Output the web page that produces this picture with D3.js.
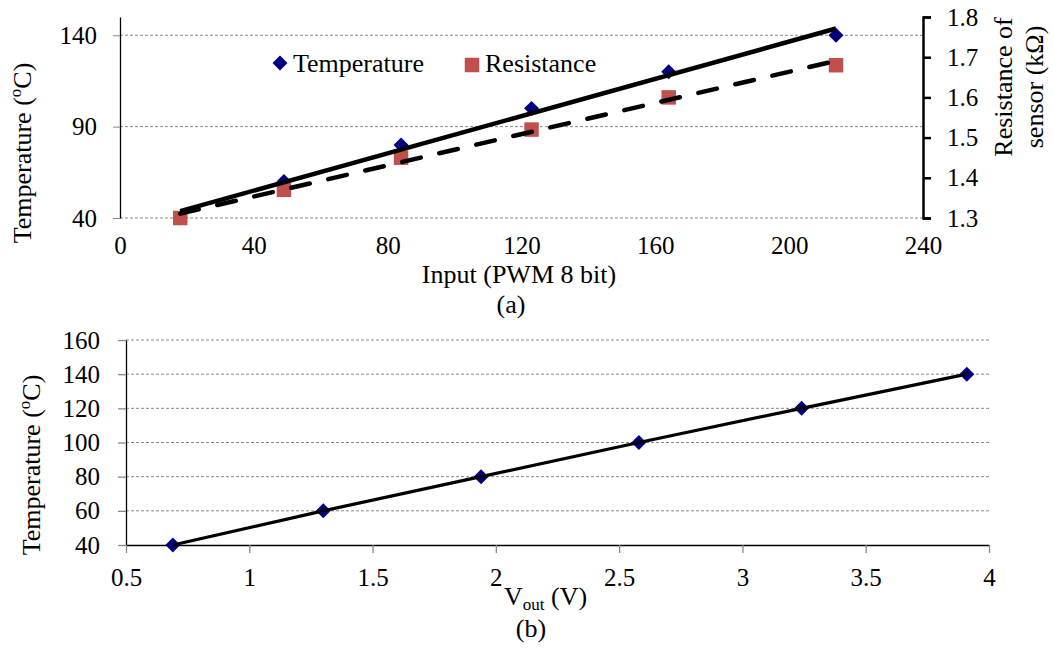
<!DOCTYPE html>
<html>
<head>
<meta charset="utf-8">
<script src="https://cdn.jsdelivr.net/npm/d3@7"></script>
<style>
  body { margin: 0; background: #fff; }
  .grid { stroke: #888; stroke-width: 1; stroke-dasharray: 3,2; }
</style>
</head>
<body>
<script>
// data
const pwmInput = [18, 49, 84, 123, 164, 214];
const temperature = [40, 60, 80, 100, 120, 140];
const resistance = [1.30, 1.37, 1.45, 1.52, 1.60, 1.68];
const vout = [0.69, 1.30, 1.94, 2.58, 3.24, 3.91];

const pwmTicks = [0, 40, 80, 120, 160, 200, 240];
const tempTicksA = [40, 90, 140];
const resTicks = [1.3, 1.4, 1.5, 1.6, 1.7, 1.8];
const voutTicks = [0.5, 1, 1.5, 2, 2.5, 3, 3.5, 4];
const voutTickLabels = ["0.5", "1", "1.5", "2", "2.5", "3", "3.5", "4"];
const tempTicksB = [40, 60, 80, 100, 120, 140, 160];

var w = 1053;
var h = 648;
var fs = 26; // label font size
var serif = "Liberation Serif";

// least squares trendline (Excel style linear trend)
const linFit = (xs, ys) => {
    const mx = d3.mean(xs), my = d3.mean(ys);
    const sxy = d3.sum(xs, (x, i) => (x - mx) * (ys[i] - my));
    const sxx = d3.sum(xs, x => (x - mx) * (x - mx));
    const b = sxy / sxx;
    return x => my + b * (x - mx);
};

// axis text in serif
const styleAxis = g => {
    g.attr("font-family", serif).attr("font-size", 25);
    g.selectAll(".tick text").attr("font-family", serif).attr("fill", "#000");
};

const svg = d3.select("body").append("svg")
    .attr("width", w)
    .attr("height", h)
    .attr("font-family", serif);

const diamond = d3.symbol().type(d3.symbolSquare).size(112);
const square = d3.symbol().type(d3.symbolSquare).size(210);

// ---------- (a) ----------
const xA = d3.scaleLinear().domain([0, 240]).range([120, 923]);
const yA = d3.scaleLinear().domain([40, 150]).range([218, 17]);
const yR = d3.scaleLinear().domain([1.3, 1.8]).range([218, 17]);

// gridlines
svg.append("g").selectAll("line")
    .data(tempTicksA)
    .join("line")
    .attr("class", "grid")
    .attr("x1", xA(0)).attr("x2", xA(240))
    .attr("y1", d => yA(d)).attr("y2", d => yA(d));

// left axis
const gLA = svg.append("g")
    .attr("transform", `translate(${xA(0)},0)`)
    .call(d3.axisLeft(yA).tickValues(tempTicksA).tickSize(7).tickSizeOuter(0).tickPadding(16))
    .call(styleAxis);
gLA.select(".domain").attr("stroke", "#000").attr("stroke-width", 1.3);
gLA.selectAll(".tick line").attr("stroke", "#888");

// right axis
const gRA = svg.append("g")
    .attr("transform", `translate(${xA(240)},0)`)
    .call(d3.axisRight(yR).tickValues(resTicks).tickSize(8).tickSizeOuter(8).tickPadding(16).tickFormat(d3.format(".1f")))
    .call(styleAxis);
gRA.select(".domain").attr("stroke", "#000").attr("stroke-width", 2.5);
gRA.selectAll(".tick line").attr("stroke", "#000").attr("stroke-width", 2.5);

// bottom labels only
const gXA = svg.append("g")
    .attr("transform", `translate(0,${yA(40)})`)
    .call(d3.axisBottom(xA).tickValues(pwmTicks).tickSize(0).tickPadding(18))
    .call(styleAxis);
gXA.select(".domain").remove();

// markers
svg.append("g").selectAll("path")
    .data(pwmInput)
    .join("path")
    .attr("d", diamond)
    .attr("transform", (d, i) => `translate(${xA(d)},${yA(temperature[i])}) rotate(45)`)
    .attr("fill", "#000080");

svg.append("g").selectAll("path")
    .data(pwmInput)
    .join("path")
    .attr("d", square)
    .attr("transform", (d, i) => `translate(${xA(d)},${yR(resistance[i])})`)
    .attr("fill", "#C0504D");

// trendlines
const fitT = linFit(pwmInput, temperature);
const fitR = linFit(pwmInput, resistance);
const ends = d3.extent(pwmInput);

svg.append("path")
    .datum(ends)
    .attr("fill", "none")
    .attr("stroke", "#000")
    .attr("stroke-width", 4.5)
    .attr("d", d3.line().x(d => xA(d)).y(d => yA(fitT(d))));

svg.append("path")
    .datum(ends)
    .attr("fill", "none")
    .attr("stroke", "#000")
    .attr("stroke-width", 4.5)
    .attr("stroke-linecap", "round")
    .attr("stroke-dasharray", "19,19")
    .attr("d", d3.line().x(d => xA(d)).y(d => yR(fitR(d))));

// legend
svg.append("path")
    .attr("d", diamond)
    .attr("transform", "translate(280,63) rotate(45)")
    .attr("fill", "#000080");
svg.append("text")
    .attr("x", 293).attr("y", 72)
    .attr("font-size", fs)
    .text("Temperature");
svg.append("path")
    .attr("d", square)
    .attr("transform", "translate(472,65)")
    .attr("fill", "#C0504D");
svg.append("text")
    .attr("x", 485).attr("y", 72)
    .attr("font-size", fs)
    .text("Resistance");

// titles
const tA = svg.append("text")
    .attr("transform", "translate(31,153) rotate(-90)")
    .attr("text-anchor", "middle")
    .attr("font-size", fs);
tA.append("tspan").text("Temperature (");
tA.append("tspan").attr("font-size", 17).attr("dy", -10).text("o");
tA.append("tspan").attr("dy", 10).text("C)");

svg.append("text")
    .attr("transform", "translate(1012,87) rotate(-90)")
    .attr("text-anchor", "middle")
    .attr("font-size", fs)
    .text("Resistance of");
svg.append("text")
    .attr("transform", "translate(1043,87) rotate(-90)")
    .attr("text-anchor", "middle")
    .attr("font-size", fs)
    .text("sensor (kΩ)");

svg.append("text")
    .attr("x", 519).attr("y", 283)
    .attr("text-anchor", "middle")
    .attr("font-size", fs)
    .text("Input (PWM 8 bit)");
svg.append("text")
    .attr("x", 511).attr("y", 313)
    .attr("text-anchor", "middle")
    .attr("font-size", fs)
    .text("(a)");

// ---------- (b) ----------
const xB = d3.scaleLinear().domain([0.5, 4]).range([126, 989]);
const yB = d3.scaleLinear().domain([40, 160]).range([545, 340]);

svg.append("g").selectAll("line")
    .data(tempTicksB.slice(1))
    .join("line")
    .attr("class", "grid")
    .attr("x1", xB(0.5)).attr("x2", xB(4))
    .attr("y1", d => yB(d)).attr("y2", d => yB(d));

const gLB = svg.append("g")
    .attr("transform", `translate(${xB(0.5)},0)`)
    .call(d3.axisLeft(yB).tickValues(tempTicksB).tickSize(8).tickSizeOuter(0).tickPadding(18))
    .call(styleAxis);
gLB.select(".domain").attr("stroke", "#000").attr("stroke-width", 1.3);
gLB.selectAll(".tick line").attr("stroke", "#888").attr("stroke-width", 1.3);

const gXB = svg.append("g")
    .attr("transform", `translate(0,${yB(40)})`)
    .call(d3.axisBottom(xB).tickValues(voutTicks).tickSize(8).tickSizeOuter(0).tickPadding(15)
        .tickFormat((d, i) => voutTickLabels[i]))
    .call(styleAxis);
gXB.select(".domain").attr("stroke", "#000").attr("stroke-width", 1.3);
gXB.selectAll(".tick line").attr("stroke", "#888").attr("stroke-width", 1.3);

svg.append("g").selectAll("path")
    .data(vout)
    .join("path")
    .attr("d", diamond)
    .attr("transform", (d, i) => `translate(${xB(d)},${yB(temperature[i])}) rotate(45)`)
    .attr("fill", "#000080");

svg.append("path")
    .datum(vout)
    .attr("fill", "none")
    .attr("stroke", "#000")
    .attr("stroke-width", 3.2)
    .attr("d", d3.line().x(d => xB(d)).y((d, i) => yB(temperature[i])));

const tB = svg.append("text")
    .attr("transform", "translate(40,465) rotate(-90)")
    .attr("text-anchor", "middle")
    .attr("font-size", fs);
tB.append("tspan").text("Temperature (");
tB.append("tspan").attr("font-size", 17).attr("dy", -10).text("o");
tB.append("tspan").attr("dy", 10).text("C)");

const vl = svg.append("text")
    .attr("x", 504).attr("y", 605)
    .attr("font-size", fs);
vl.append("tspan").text("V");
vl.append("tspan").attr("font-size", 17).attr("dy", 5).text("out");
vl.append("tspan").attr("dy", -5).text(" (V)");

svg.append("text")
    .attr("x", 531).attr("y", 637)
    .attr("text-anchor", "middle")
    .attr("font-size", fs)
    .text("(b)");
</script>
</body>
</html>
